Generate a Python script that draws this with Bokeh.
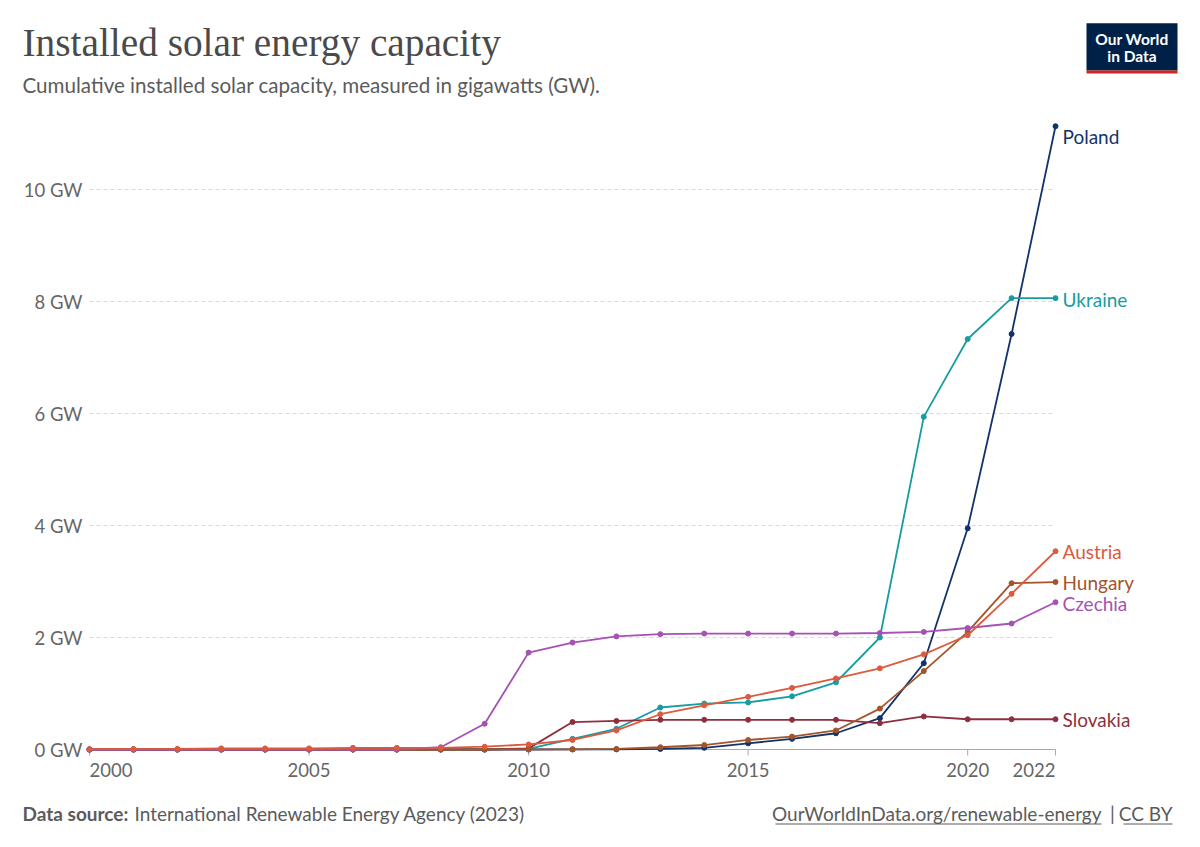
from bokeh.plotting import figure
from bokeh.models import Range1d
from bokeh.layouts import column
from bokeh.core.properties import value
from bokeh.embed import file_html
from bokeh.resources import INLINE

# ---------------- data ----------------
years = list(range(2000, 2023))
poland   = [0, 0, 0, 0, 0, 0, 0, 0, 0, 0, 0.0, 0.001, 0.002, 0.01, 0.03, 0.11, 0.19, 0.29, 0.56, 1.54, 3.95, 7.42, 11.13]
ukraine  = [0, 0, 0, 0, 0, 0, 0, 0, 0, 0, 0.01, 0.19, 0.37, 0.75, 0.82, 0.84, 0.95, 1.20, 2.00, 5.94, 7.33, 8.06, 8.06]
slovakia = [0, 0, 0, 0, 0, 0, 0, 0, 0, 0, 0.02, 0.49, 0.51, 0.53, 0.53, 0.53, 0.53, 0.53, 0.47, 0.59, 0.54, 0.54, 0.54]
hungary  = [0, 0, 0, 0, 0, 0, 0, 0, 0, 0, 0.002, 0.004, 0.01, 0.04, 0.08, 0.17, 0.23, 0.34, 0.73, 1.40, 2.10, 2.97, 2.99]
czechia  = [0, 0, 0, 0, 0, 0, 0, 0, 0.04, 0.46, 1.73, 1.91, 2.02, 2.06, 2.07, 2.07, 2.07, 2.07, 2.08, 2.10, 2.17, 2.25, 2.63]
austria  = [0.005, 0.007, 0.01, 0.02, 0.02, 0.02, 0.03, 0.03, 0.03, 0.05, 0.09, 0.17, 0.34, 0.63, 0.79, 0.94, 1.10, 1.27, 1.45, 1.70, 2.04, 2.78, 3.54]

series_names = ["Poland", "Ukraine", "Slovakia", "Hungary", "Czechia", "Austria"]
series_values = [poland, ukraine, slovakia, hungary, czechia, austria]

x_ticks = [2000, 2005, 2010, 2015, 2020, 2022]
x_tick_labels = ["2000", "2005", "2010", "2015", "2020", "2022"]
y_ticks = [0, 2, 4, 6, 8, 10]
y_unit = "GW"

title_text = "Installed solar energy capacity"
subtitle_text = "Cumulative installed solar capacity, measured in gigawatts (GW)."
source_label = "Data source:"
source_text = "International Renewable Energy Agency (2023)"
url_text = "OurWorldInData.org/renewable-energy"
license_text = "CC BY"
logo_lines = ["Our World", "in Data"]

# ---------------- styles ----------------
colors = {
    "Poland": "#12336a",
    "Ukraine": "#179ca2",
    "Slovakia": "#8f2f3d",
    "Hungary": "#a4542a",
    "Czechia": "#a552b2",
    "Austria": "#dc5a3e",
}
label_offsets = {"Poland": 10, "Ukraine": 1, "Slovakia": 0, "Hungary": 0, "Czechia": 1, "Austria": 0}
x_label_align = ["left", "center", "center", "center", "center", "right"]

FONT = "Lato"
TEXT_GREY = "#5b5b5b"
AXIS_GREY = "#666666"
AXIS_LINE = "#a8a8a8"

W = 1200
HEADER_H = 119
MAIN_H = 673
FOOTER_H = 55
FRAME_H = MAIN_H
ZERO_ABOVE_BOTTOM = 43   # px between zero line and bottom of the chart area (room for x labels)
TICK_LEN = 6
X_LABEL_DROP = 20

# x mapping: first year at 89 px, last year at 1055 px of the full-width frame
X_FIRST_PX, X_LAST_PX = 89.0, 1055.0
ppy = (X_LAST_PX - X_FIRST_PX) / (years[-1] - years[0])
x_start = years[0] - X_FIRST_PX / ppy
x_end = x_start + W / ppy
ppg = 56.0
y_start = -ZERO_ABOVE_BOTTOM / ppg
y_end = y_start + FRAME_H / ppg

def blank(h, ymax):
    f = figure(width=W, height=h, x_range=Range1d(0, W), y_range=Range1d(ymax, 0),
               x_axis_type=None, y_axis_type=None, toolbar_location=None, output_backend="svg",
               min_border=0, outline_line_color=None, title_location=None)
    f.xgrid.visible = False
    f.ygrid.visible = False
    return f

# ---------------- header ----------------
hdr = blank(HEADER_H, HEADER_H)
hdr.text(x=[22], y=[42], text=[title_text], text_font=value("Liberation Serif"),
         text_font_size="39.3px", text_color="#4a4a4a", text_baseline="middle")
hdr.text(x=[22], y=[84], text=[subtitle_text], text_font=value(FONT),
         text_font_size="20.6px", text_color=TEXT_GREY, text_baseline="middle")
hdr.quad(left=[1086], right=[1177], top=[22.7], bottom=[70], fill_color="#002147", line_color=None)
hdr.quad(left=[1086], right=[1177], top=[70], bottom=[73], fill_color="#ce261e", line_color=None)
hdr.text(x=[1131.5, 1131.5], y=[38.5, 55], text=logo_lines, text_font=value(FONT),
         text_font_size="15.5px", text_font_style="bold", text_color="white",
         text_align="center", text_baseline="middle")

# ---------------- main chart ----------------
p = figure(width=W, height=MAIN_H, x_range=Range1d(x_start, x_end), y_range=Range1d(y_start, y_end),
           toolbar_location=None, output_backend="svg", title_location=None,
           x_axis_location=None, y_axis_location=None, min_border=0, outline_line_color=None)
p.xgrid.visible = False
p.ygrid.visible = False

# dashed horizontal grid limited to the data span
gy = [t for t in y_ticks if t != 0]
p.segment(x0=[years[0]] * len(gy), x1=[years[-1]] * len(gy), y0=gy, y1=gy,
          line_color="#d9d9d9", line_width=1, line_dash="4 3")
# baseline axis line at zero, with tick marks below it
p.segment(x0=[years[0]], x1=[years[-1]], y0=[0], y1=[0], line_color=AXIS_LINE, line_width=1)
p.segment(x0=x_ticks, x1=x_ticks, y0=[0] * len(x_ticks), y1=[-TICK_LEN / ppg] * len(x_ticks),
          line_color=AXIS_LINE, line_width=1)

# y tick labels
p.text(x=[years[0]] * len(y_ticks), y=y_ticks, text=[f"{t} {y_unit}" for t in y_ticks],
       x_offset=-7, text_align="right", text_baseline="middle",
       text_font=value(FONT), text_font_size="18.5px", text_color=AXIS_GREY)

# x tick labels
for t, lab, al in zip(x_ticks, x_tick_labels, x_label_align):
    p.text(x=[t], y=[0], text=[lab], y_offset=X_LABEL_DROP, text_align=al, text_baseline="middle",
           text_font=value(FONT), text_font_size="18.5px", text_color=AXIS_GREY)

for name, vals in zip(series_names, series_values):
    c = colors[name]
    p.line(years, vals, line_color=c, line_width=1.8)
    p.scatter(years, vals, size=5, fill_color=c, line_color=c)

for name, vals in zip(series_names, series_values):
    p.text(x=[years[-1]], y=[vals[-1]], text=[name], x_offset=7, y_offset=label_offsets[name],
           text_font=value(FONT), text_font_size="19px", text_color=colors[name],
           text_baseline="middle", text_align="left")

# ---------------- footer ----------------
ftr = blank(FOOTER_H, FOOTER_H)
FS = "19px"
ftr.text(x=[22], y=[21], text=[source_label], text_font=value(FONT), text_font_size=FS,
         text_font_style="bold", text_color=TEXT_GREY, text_baseline="middle")
ftr.text(x=[134], y=[21], text=[source_text], text_font=value(FONT), text_font_size=FS,
         text_color=TEXT_GREY, text_baseline="middle")
ftr.text(x=[1172], y=[21], text=[license_text], text_font=value(FONT), text_font_size=FS,
         text_color=TEXT_GREY, text_baseline="middle", text_align="right")
ftr.text(x=[1112], y=[21], text=["|"], text_font=value(FONT), text_font_size=FS,
         text_color=TEXT_GREY, text_baseline="middle", text_align="center")
ftr.text(x=[1101], y=[21], text=[url_text], text_font=value(FONT), text_font_size=FS,
         text_color=TEXT_GREY, text_baseline="middle", text_align="right")
ftr.segment(x0=[775, 1123], x1=[1101, 1172], y0=[31.5, 31.5], y1=[31.5, 31.5],
            line_color=TEXT_GREY, line_width=1)

layout = column(hdr, p, ftr, spacing=0)
open("out.html", "w").write(file_html(layout, INLINE))
